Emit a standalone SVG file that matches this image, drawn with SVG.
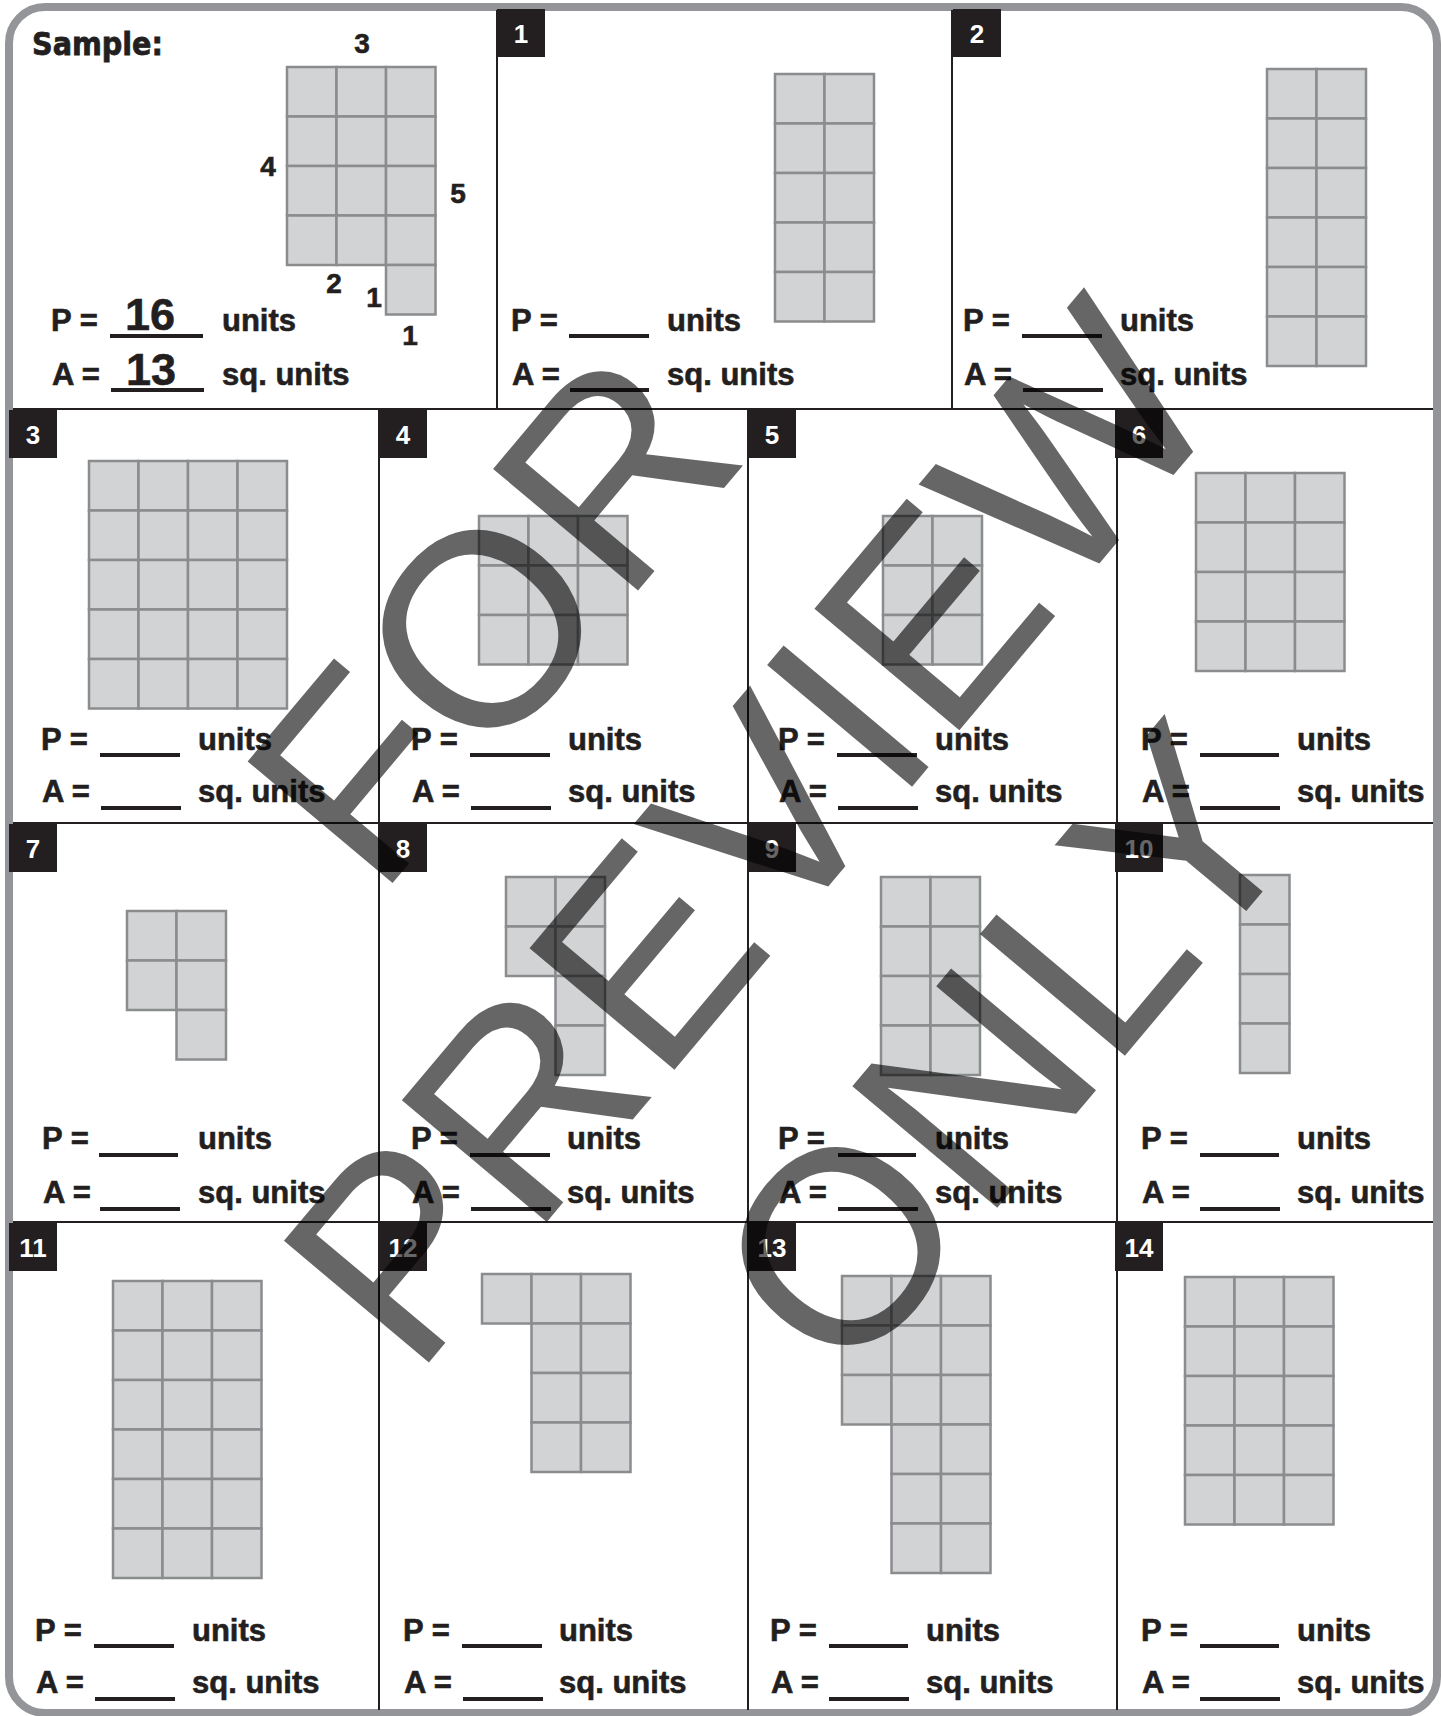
<svg xmlns="http://www.w3.org/2000/svg" xmlns:xlink="http://www.w3.org/1999/xlink" width="1442" height="1716" viewBox="0 0 1442 1716">
<style>
.g{fill:#d1d3d4;stroke:#8a8c8e;stroke-width:2.5}
.t{font-family:"Liberation Sans",Arial,sans-serif;font-weight:bold;font-size:31px;fill:#231f20;stroke:#231f20;stroke-width:0.6}
.big{font-size:45px;text-anchor:middle}
.n{font-family:"Liberation Sans",Arial,sans-serif;font-weight:bold;font-size:26px;fill:#fff;text-anchor:middle}
.d{font-family:"Liberation Sans",Arial,sans-serif;font-weight:bold;font-size:28px;fill:#231f20;stroke:#231f20;stroke-width:0.6;text-anchor:middle}
.b{fill:#231f20}
.ul{stroke:#231f20;stroke-width:4}
.ln{stroke:#231f20;stroke-width:2;fill:none}
</style>
<defs>
<rect id="sq" width="49.5" height="49.5" class="g"/>
</defs>
<rect x="0" y="0" width="1442" height="1716" fill="#fff"/>
<rect x="9" y="7" width="1428" height="1706" rx="36" fill="#fff" stroke="#939598" stroke-width="8"/>

<g id="dividers">
<line class="ln" x1="13" y1="409" x2="1433" y2="409"/>
<line class="ln" x1="13" y1="823" x2="1433" y2="823"/>
<line class="ln" x1="13" y1="1222" x2="1433" y2="1222"/>
<line class="ln" x1="497" y1="10" x2="497" y2="409"/>
<line class="ln" x1="952" y1="10" x2="952" y2="409"/>
<line class="ln" x1="379" y1="409" x2="379" y2="1710"/>
<line class="ln" x1="748" y1="409" x2="748" y2="1710"/>
<line class="ln" x1="1117" y1="409" x2="1117" y2="1710"/>
</g>

<g id="sample">
<text x="32" y="55" font-family="DejaVu Sans,sans-serif" font-weight="bold" font-size="32" fill="#231f20" stroke="#231f20" stroke-width="0.8" textLength="131" lengthAdjust="spacingAndGlyphs">Sample:</text>
<use href="#sq" x="287" y="67"/><use href="#sq" x="336.5" y="67"/><use href="#sq" x="386" y="67"/>
<use href="#sq" x="287" y="116.5"/><use href="#sq" x="336.5" y="116.5"/><use href="#sq" x="386" y="116.5"/>
<use href="#sq" x="287" y="166"/><use href="#sq" x="336.5" y="166"/><use href="#sq" x="386" y="166"/>
<use href="#sq" x="287" y="215.5"/><use href="#sq" x="336.5" y="215.5"/><use href="#sq" x="386" y="215.5"/>
<use href="#sq" x="386" y="265"/>
<text class="d" x="362" y="53">3</text>
<text class="d" x="268" y="176">4</text>
<text class="d" x="458" y="203">5</text>
<text class="d" x="334" y="293">2</text>
<text class="d" x="374" y="307">1</text>
<text class="d" x="410" y="345">1</text>
<text class="t" x="51" y="331">P =</text>
<text class="t big" x="150" y="330">16</text>
<line class="ul" x1="110" y1="336" x2="203" y2="336"/>
<text class="t" x="222" y="331">units</text>
<text class="t" x="52" y="385">A =</text>
<text class="t big" x="151" y="385">13</text>
<line class="ul" x1="111" y1="390" x2="204" y2="390"/>
<text class="t" x="222" y="385">sq. units</text>
</g>

<g id="cell1">
<rect class="b" x="497" y="9" width="48" height="48"/><text class="n" x="521" y="43">1</text>
<use href="#sq" x="775" y="74"/><use href="#sq" x="824.5" y="74"/>
<use href="#sq" x="775" y="123.5"/><use href="#sq" x="824.5" y="123.5"/>
<use href="#sq" x="775" y="173"/><use href="#sq" x="824.5" y="173"/>
<use href="#sq" x="775" y="222.5"/><use href="#sq" x="824.5" y="222.5"/>
<use href="#sq" x="775" y="272"/><use href="#sq" x="824.5" y="272"/>
<text class="t" x="511" y="331">P =</text><line class="ul" x1="569" y1="336" x2="649" y2="336"/><text class="t" x="667" y="331">units</text>
<text class="t" x="512" y="385">A =</text><line class="ul" x1="570" y1="390" x2="649" y2="390"/><text class="t" x="667" y="385">sq. units</text>
</g>

<g id="cell2">
<rect class="b" x="953" y="9" width="48" height="48"/><text class="n" x="977" y="43">2</text>
<use href="#sq" x="1267" y="69"/><use href="#sq" x="1316.5" y="69"/>
<use href="#sq" x="1267" y="118.5"/><use href="#sq" x="1316.5" y="118.5"/>
<use href="#sq" x="1267" y="168"/><use href="#sq" x="1316.5" y="168"/>
<use href="#sq" x="1267" y="217.5"/><use href="#sq" x="1316.5" y="217.5"/>
<use href="#sq" x="1267" y="267"/><use href="#sq" x="1316.5" y="267"/>
<use href="#sq" x="1267" y="316.5"/><use href="#sq" x="1316.5" y="316.5"/>
<text class="t" x="963" y="331">P =</text><line class="ul" x1="1022" y1="336" x2="1102" y2="336"/><text class="t" x="1120" y="331">units</text>
<text class="t" x="964" y="385">A =</text><line class="ul" x1="1023" y1="390" x2="1103" y2="390"/><text class="t" x="1120" y="385">sq. units</text>
</g>

<g id="cell3">
<rect class="b" x="9" y="410" width="48" height="48"/><text class="n" x="33" y="444">3</text>
<use href="#sq" x="89" y="461"/><use href="#sq" x="138.5" y="461"/><use href="#sq" x="188" y="461"/><use href="#sq" x="237.5" y="461"/>
<use href="#sq" x="89" y="510.5"/><use href="#sq" x="138.5" y="510.5"/><use href="#sq" x="188" y="510.5"/><use href="#sq" x="237.5" y="510.5"/>
<use href="#sq" x="89" y="560"/><use href="#sq" x="138.5" y="560"/><use href="#sq" x="188" y="560"/><use href="#sq" x="237.5" y="560"/>
<use href="#sq" x="89" y="609.5"/><use href="#sq" x="138.5" y="609.5"/><use href="#sq" x="188" y="609.5"/><use href="#sq" x="237.5" y="609.5"/>
<use href="#sq" x="89" y="659"/><use href="#sq" x="138.5" y="659"/><use href="#sq" x="188" y="659"/><use href="#sq" x="237.5" y="659"/>
<text class="t" x="41" y="750">P =</text><line class="ul" x1="100" y1="755" x2="180" y2="755"/><text class="t" x="198" y="750">units</text>
<text class="t" x="42" y="802">A =</text><line class="ul" x1="101" y1="808" x2="181" y2="808"/><text class="t" x="198" y="802">sq. units</text>
</g>

<g id="cell4">
<rect class="b" x="379" y="410" width="48" height="48"/><text class="n" x="403" y="444">4</text>
<use href="#sq" x="479" y="516"/><use href="#sq" x="528.5" y="516"/><use href="#sq" x="578" y="516"/>
<use href="#sq" x="479" y="565.5"/><use href="#sq" x="528.5" y="565.5"/><use href="#sq" x="578" y="565.5"/>
<use href="#sq" x="479" y="615"/><use href="#sq" x="528.5" y="615"/><use href="#sq" x="578" y="615"/>
<text class="t" x="411" y="750">P =</text><line class="ul" x1="470" y1="755" x2="550" y2="755"/><text class="t" x="568" y="750">units</text>
<text class="t" x="412" y="802">A =</text><line class="ul" x1="471" y1="808" x2="551" y2="808"/><text class="t" x="568" y="802">sq. units</text>
</g>

<g id="cell5">
<rect class="b" x="748" y="410" width="48" height="48"/><text class="n" x="772" y="444">5</text>
<use href="#sq" x="883" y="516"/><use href="#sq" x="932.5" y="516"/>
<use href="#sq" x="883" y="565.5"/><use href="#sq" x="932.5" y="565.5"/>
<use href="#sq" x="883" y="615"/><use href="#sq" x="932.5" y="615"/>
<text class="t" x="778" y="750">P =</text><line class="ul" x1="837" y1="755" x2="917" y2="755"/><text class="t" x="935" y="750">units</text>
<text class="t" x="779" y="802">A =</text><line class="ul" x1="838" y1="808" x2="918" y2="808"/><text class="t" x="935" y="802">sq. units</text>
</g>

<g id="cell6">
<rect class="b" x="1115" y="410" width="48" height="48"/><text class="n" x="1139" y="444">6</text>
<use href="#sq" x="1196" y="473"/><use href="#sq" x="1245.5" y="473"/><use href="#sq" x="1295" y="473"/>
<use href="#sq" x="1196" y="522.5"/><use href="#sq" x="1245.5" y="522.5"/><use href="#sq" x="1295" y="522.5"/>
<use href="#sq" x="1196" y="572"/><use href="#sq" x="1245.5" y="572"/><use href="#sq" x="1295" y="572"/>
<use href="#sq" x="1196" y="621.5"/><use href="#sq" x="1245.5" y="621.5"/><use href="#sq" x="1295" y="621.5"/>
<text class="t" x="1141" y="750">P =</text><line class="ul" x1="1200" y1="755" x2="1279" y2="755"/><text class="t" x="1297" y="750">units</text>
<text class="t" x="1142" y="802">A =</text><line class="ul" x1="1200" y1="808" x2="1280" y2="808"/><text class="t" x="1297" y="802">sq. units</text>
</g>

<g id="cell7">
<rect class="b" x="9" y="824" width="48" height="48"/><text class="n" x="33" y="858">7</text>
<use href="#sq" x="127" y="911"/><use href="#sq" x="176.5" y="911"/>
<use href="#sq" x="127" y="960.5"/><use href="#sq" x="176.5" y="960.5"/>
<use href="#sq" x="176.5" y="1010"/>
<text class="t" x="42" y="1149">P =</text><line class="ul" x1="99" y1="1155" x2="178" y2="1155"/><text class="t" x="198" y="1149">units</text>
<text class="t" x="43" y="1203">A =</text><line class="ul" x1="100" y1="1209" x2="180" y2="1209"/><text class="t" x="198" y="1203">sq. units</text>
</g>

<g id="cell8">
<rect class="b" x="379" y="824" width="48" height="48"/><text class="n" x="403" y="858">8</text>
<use href="#sq" x="506" y="877"/><use href="#sq" x="555.5" y="877"/>
<use href="#sq" x="506" y="926.5"/><use href="#sq" x="555.5" y="926.5"/>
<use href="#sq" x="555.5" y="976"/>
<use href="#sq" x="555.5" y="1025.5"/>
<text class="t" x="411" y="1149">P =</text><line class="ul" x1="470" y1="1155" x2="550" y2="1155"/><text class="t" x="567" y="1149">units</text>
<text class="t" x="412" y="1203">A =</text><line class="ul" x1="471" y1="1209" x2="551" y2="1209"/><text class="t" x="567" y="1203">sq. units</text>
</g>

<g id="cell9">
<rect class="b" x="748" y="824" width="48" height="48"/><text class="n" x="772" y="858">9</text>
<use href="#sq" x="881" y="877"/><use href="#sq" x="930.5" y="877"/>
<use href="#sq" x="881" y="926.5"/><use href="#sq" x="930.5" y="926.5"/>
<use href="#sq" x="881" y="976"/><use href="#sq" x="930.5" y="976"/>
<use href="#sq" x="881" y="1025.5"/><use href="#sq" x="930.5" y="1025.5"/>
<text class="t" x="778" y="1149">P =</text><line class="ul" x1="838" y1="1155" x2="916" y2="1155"/><text class="t" x="935" y="1149">units</text>
<text class="t" x="779" y="1203">A =</text><line class="ul" x1="838" y1="1209" x2="918" y2="1209"/><text class="t" x="935" y="1203">sq. units</text>
</g>

<g id="cell10">
<rect class="b" x="1115" y="824" width="48" height="48"/><text class="n" x="1139" y="858">10</text>
<use href="#sq" x="1240" y="875"/>
<use href="#sq" x="1240" y="924.5"/>
<use href="#sq" x="1240" y="974"/>
<use href="#sq" x="1240" y="1023.5"/>
<text class="t" x="1141" y="1149">P =</text><line class="ul" x1="1200" y1="1155" x2="1279" y2="1155"/><text class="t" x="1297" y="1149">units</text>
<text class="t" x="1142" y="1203">A =</text><line class="ul" x1="1200" y1="1209" x2="1280" y2="1209"/><text class="t" x="1297" y="1203">sq. units</text>
</g>

<g id="cell11">
<rect class="b" x="9" y="1223" width="48" height="48"/><text class="n" x="33" y="1257">11</text>
<use href="#sq" x="113" y="1281"/><use href="#sq" x="162.5" y="1281"/><use href="#sq" x="212" y="1281"/>
<use href="#sq" x="113" y="1330.5"/><use href="#sq" x="162.5" y="1330.5"/><use href="#sq" x="212" y="1330.5"/>
<use href="#sq" x="113" y="1380"/><use href="#sq" x="162.5" y="1380"/><use href="#sq" x="212" y="1380"/>
<use href="#sq" x="113" y="1429.5"/><use href="#sq" x="162.5" y="1429.5"/><use href="#sq" x="212" y="1429.5"/>
<use href="#sq" x="113" y="1479"/><use href="#sq" x="162.5" y="1479"/><use href="#sq" x="212" y="1479"/>
<use href="#sq" x="113" y="1528.5"/><use href="#sq" x="162.5" y="1528.5"/><use href="#sq" x="212" y="1528.5"/>
<text class="t" x="35" y="1641">P =</text><line class="ul" x1="94" y1="1646" x2="174" y2="1646"/><text class="t" x="192" y="1641">units</text>
<text class="t" x="36" y="1693">A =</text><line class="ul" x1="95" y1="1699" x2="175" y2="1699"/><text class="t" x="192" y="1693">sq. units</text>
</g>

<g id="cell12">
<rect class="b" x="379" y="1223" width="48" height="48"/><text class="n" x="403" y="1257">12</text>
<use href="#sq" x="482" y="1274"/><use href="#sq" x="531.5" y="1274"/><use href="#sq" x="581" y="1274"/>
<use href="#sq" x="531.5" y="1323.5"/><use href="#sq" x="581" y="1323.5"/>
<use href="#sq" x="531.5" y="1373"/><use href="#sq" x="581" y="1373"/>
<use href="#sq" x="531.5" y="1422.5"/><use href="#sq" x="581" y="1422.5"/>
<text class="t" x="403" y="1641">P =</text><line class="ul" x1="462" y1="1646" x2="542" y2="1646"/><text class="t" x="559" y="1641">units</text>
<text class="t" x="404" y="1693">A =</text><line class="ul" x1="463" y1="1699" x2="543" y2="1699"/><text class="t" x="559" y="1693">sq. units</text>
</g>

<g id="cell13">
<rect class="b" x="748" y="1223" width="48" height="48"/><text class="n" x="772" y="1257">13</text>
<use href="#sq" x="842" y="1276"/><use href="#sq" x="891.5" y="1276"/><use href="#sq" x="941" y="1276"/>
<use href="#sq" x="842" y="1325.5"/><use href="#sq" x="891.5" y="1325.5"/><use href="#sq" x="941" y="1325.5"/>
<use href="#sq" x="842" y="1375"/><use href="#sq" x="891.5" y="1375"/><use href="#sq" x="941" y="1375"/>
<use href="#sq" x="891.5" y="1424.5"/><use href="#sq" x="941" y="1424.5"/>
<use href="#sq" x="891.5" y="1474"/><use href="#sq" x="941" y="1474"/>
<use href="#sq" x="891.5" y="1523.5"/><use href="#sq" x="941" y="1523.5"/>
<text class="t" x="770" y="1641">P =</text><line class="ul" x1="829" y1="1646" x2="908" y2="1646"/><text class="t" x="926" y="1641">units</text>
<text class="t" x="771" y="1693">A =</text><line class="ul" x1="829" y1="1699" x2="909" y2="1699"/><text class="t" x="926" y="1693">sq. units</text>
</g>

<g id="cell14">
<rect class="b" x="1115" y="1223" width="48" height="48"/><text class="n" x="1139" y="1257">14</text>
<use href="#sq" x="1185" y="1277"/><use href="#sq" x="1234.5" y="1277"/><use href="#sq" x="1284" y="1277"/>
<use href="#sq" x="1185" y="1326.5"/><use href="#sq" x="1234.5" y="1326.5"/><use href="#sq" x="1284" y="1326.5"/>
<use href="#sq" x="1185" y="1376"/><use href="#sq" x="1234.5" y="1376"/><use href="#sq" x="1284" y="1376"/>
<use href="#sq" x="1185" y="1425.5"/><use href="#sq" x="1234.5" y="1425.5"/><use href="#sq" x="1284" y="1425.5"/>
<use href="#sq" x="1185" y="1475"/><use href="#sq" x="1234.5" y="1475"/><use href="#sq" x="1284" y="1475"/>
<text class="t" x="1141" y="1641">P =</text><line class="ul" x1="1200" y1="1646" x2="1279" y2="1646"/><text class="t" x="1297" y="1641">units</text>
<text class="t" x="1142" y="1693">A =</text><line class="ul" x1="1200" y1="1699" x2="1280" y2="1699"/><text class="t" x="1297" y="1693">sq. units</text>
</g>

<g id="watermark" transform="translate(822,894) rotate(-50)" font-family="Liberation Sans, Arial, sans-serif" font-size="275" text-anchor="middle" fill="#000" fill-opacity="0.6">
<text x="0" y="-336">FOR</text>
<text x="0" y="0">PREVIEW</text>
<text x="0" y="336">ONLY</text>
</g>
</svg>
